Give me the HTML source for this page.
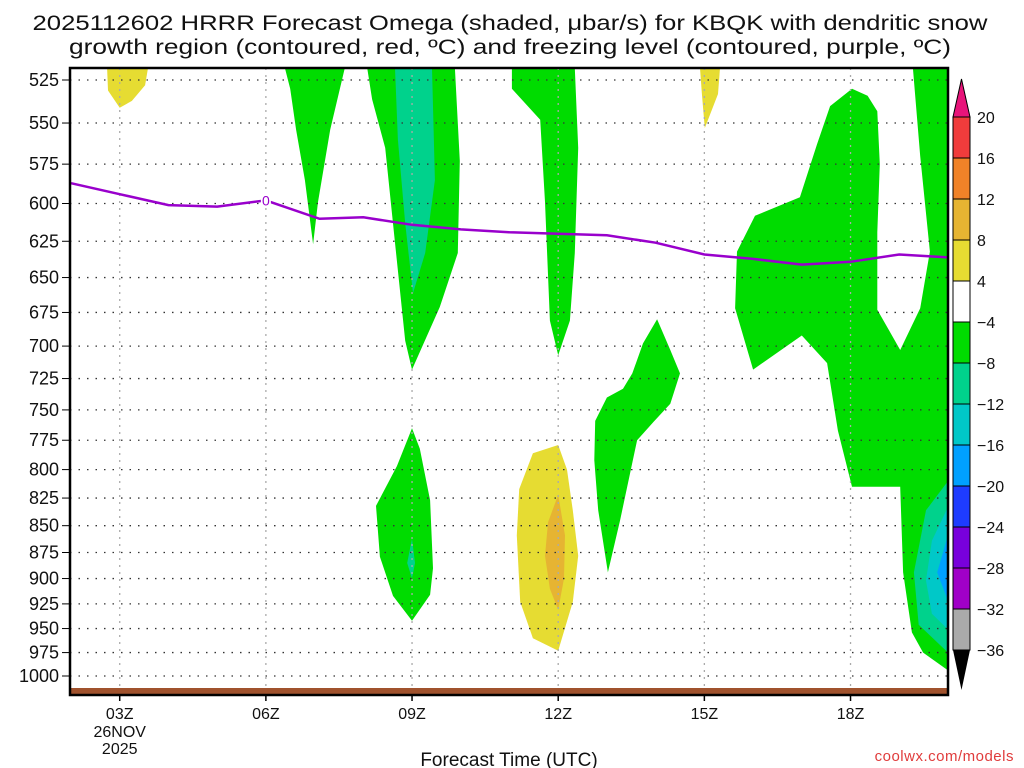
<!DOCTYPE html>
<html><head><meta charset="utf-8"><style>
body{margin:0;background:#fff}
svg{display:block}
text{font-family:"Liberation Sans","DejaVu Sans",sans-serif;fill:#111}
</style></head><body>
<svg id="chart" width="1024" height="768" viewBox="0 0 1024 768" xmlns="http://www.w3.org/2000/svg">
<text x="510" y="30" text-anchor="middle" font-size="21" textLength="955" lengthAdjust="spacingAndGlyphs">2025112602 HRRR Forecast Omega (shaded, μbar/s) for KBQK with dendritic snow</text>
<text x="510" y="54" text-anchor="middle" font-size="21" textLength="882" lengthAdjust="spacingAndGlyphs">growth region (contoured, red, ºC) and freezing level (contoured, purple, ºC)</text>
<g id="shades"></g>
<g id="grid"></g>
<g id="fz"></g>
<rect x="70" y="688" width="878" height="6" fill="#a0522d"/>
<rect x="70" y="68" width="878" height="627" fill="none" stroke="#000" stroke-width="2.5"/>
<g id="axes"></g>
<g id="cbar"></g>
<text x="509" y="766" text-anchor="middle" font-size="19">Forecast Time (UTC)</text>
<text x="1014" y="761" text-anchor="end" font-size="15" style="fill:#e03c3c" letter-spacing="0.5">coolwx.com/models</text>
</svg>
<script>
const NS="http://www.w3.org/2000/svg";
const pLevels=[525,550,575,600,625,650,675,700,725,750,775,800,825,850,875,900,925,950,975,1000];
const hourTicks=[3,6,9,12,15,18];
const hourLabels=["03Z","06Z","09Z","12Z","15Z","18Z"];
const fzHours=[2,3,4,5,6,7.1,8,9,10,11,12,13,14,15,16,17,18,19,20];
const fzPres=[587,594,601,602,598,610,609,614,617,619,620,621,626,634,637,641,639,634,636];
const cbLevels=[20,16,12,8,4,-4,-8,-12,-16,-20,-24,-28,-32,-36];
const cbColors=["#f03c3c","#f08228","#e6b432","#e6dc32","#ffffff","#00dc00","#00d28c","#00c8c8","#00a0ff","#1e3cff","#7800dc","#a000c8","#aaaaaa"];
const G="#00dc00",T="#00d28c",C="#00c8c8",B="#00a0ff",Y="#e6dc32",O="#e6b432";
const regions=[
 {n:"yellow-top-left",c:Y,pts:[[2.74,518],[3.58,518],[3.52,528],[3.25,537],[3.0,541],[2.76,531]]},
 {n:"green-07z",c:G,pts:[[6.39,518],[7.62,518],[7.32,554],[7.07,599],[6.97,627],[6.80,585],[6.62,554],[6.50,530]]},
 {n:"green-09z-upper",c:G,pts:[[8.08,518],[9.88,518],[9.98,573],[9.94,633],[9.57,671],[9.0,718],[8.86,696],[8.65,626],[8.45,565],[8.18,536]]},
 {n:"teal-09z-upper",c:T,pts:[[8.65,518],[9.41,518],[9.47,585],[9.27,633],[9.02,661],[8.86,613],[8.71,560]]},
 {n:"green-12z-upper",c:G,pts:[[11.05,518],[12.34,518],[12.41,565],[12.34,633],[12.24,681],[12.0,707],[11.83,681],[11.73,599],[11.63,548],[11.05,530]]},
 {n:"yellow-15z",c:Y,pts:[[14.91,518],[15.32,518],[15.28,533],[15.01,553],[14.95,533]]},
 {n:"green-09z-lower",c:G,pts:[[9.0,765],[8.69,797],[8.26,832],[8.34,879],[8.61,917],[9.0,942],[9.37,916],[9.43,890],[9.37,827],[9.16,782]]},
 {n:"teal-09z-lower",c:T,pts:[[9.0,862],[8.90,885],[9.0,900],[9.06,885]]},
 {n:"yellow-12z",c:Y,pts:[[12.0,779],[11.48,786],[11.2,817],[11.15,859],[11.22,923],[11.48,960],[12.0,973],[12.3,923],[12.41,878],[12.3,836],[12.18,800]]},
 {n:"orange-12z",c:O,pts:[[12.0,822],[11.79,847],[11.73,878],[11.83,910],[12.0,931],[12.12,900],[12.14,859]]},
 {n:"green-13z",c:G,pts:[[14.03,680],[13.74,698],[13.52,721],[13.33,733],[13.0,740],[12.76,759],[12.74,792],[12.82,836],[13.02,894],[13.27,845],[13.62,775],[13.95,760],[14.3,745],[14.5,721],[14.3,703]]},
 {n:"green-18z",c:G,pts:[[18.03,530],[17.58,540],[17.31,563],[16.96,596],[16.04,608],[15.67,632],[15.63,672],[16.0,718],[17.0,692],[17.52,713],[17.74,767],[18.03,815],[19.02,815],[19.08,894],[19.26,954],[19.49,975],[20,994],[20,518],[19.28,518],[19.43,570],[19.63,632],[19.43,672],[19.02,703],[18.55,673],[18.55,619],[18.6,575],[18.55,543],[18.35,534]]},
 {n:"teal-20z",c:T,pts:[[20,810],[19.55,836],[19.3,894],[19.4,946],[20,975]]},
 {n:"cyan-20z",c:C,pts:[[20,833],[19.67,864],[19.55,902],[19.67,935],[20,951]]},
 {n:"blue-20z",c:B,pts:[[20,859],[19.78,894],[20,922]]}
];
const X0=70,X1=948,Y0=68,Y1=695;
function xs(h){return 71+(h-2)*48.72;}
function ys(p){return 80+Math.log(p/525)/Math.log(1000/525)*596;}
function clampX(v){return Math.max(X0,Math.min(X1,v));}
function clampY(v){return Math.max(Y0,Math.min(Y1,v));}
function mk(tag,attrs,parent){const e=document.createElementNS(NS,tag);for(const k in attrs)e.setAttribute(k,attrs[k]);parent.appendChild(e);return e;}
const sh=document.getElementById('shades');
regions.forEach(r=>{
 const d=r.pts.map(q=>clampX(xs(q[0])).toFixed(1)+","+clampY(ys(q[1])).toFixed(1)).join(" ");
 const e=mk('polygon',{points:d,fill:r.c},sh);
 
 
});
const gr=document.getElementById('grid');
const ax=document.getElementById('axes');
pLevels.forEach(p=>{
 const y=ys(p);
 const l=mk('line',{x1:X0,x2:X1,y1:y,y2:y,stroke:"#333","stroke-width":1.3,"stroke-dasharray":"1.5 7"},gr);
 
 
 const tk=mk('line',{x1:62,x2:70,y1:y,y2:y,stroke:"#000","stroke-width":1},ax);
 
 
 const t=mk('text',{x:59,y:y+6,"text-anchor":"end","font-size":18},ax);
 t.textContent=p;
 
 
});
hourTicks.forEach((h,i)=>{
 const x=xs(h);
 const l=mk('line',{x1:x,x2:x,y1:Y0,y2:Y1,stroke:"#aaa","stroke-width":1.3,"stroke-dasharray":"2 5"},gr);
 
 
 const tk=mk('line',{x1:x,x2:x,y1:Y1,y2:Y1+6,stroke:"#000","stroke-width":1.5},ax);
 
 
 const t=mk('text',{x:x,y:719,"text-anchor":"middle","font-size":16},ax);
 t.textContent=hourLabels[i];
 
 
});
const d1=mk('text',{x:xs(3),y:737,"text-anchor":"middle","font-size":16},ax);d1.textContent="26NOV";


const d2=mk('text',{x:xs(3),y:754,"text-anchor":"middle","font-size":16},ax);d2.textContent="2025";


const fz=document.getElementById('fz');
const fl=mk('polyline',{points:fzHours.map((h,i)=>xs(h).toFixed(1)+","+ys(fzPres[i]).toFixed(1)).join(" "),fill:"none",stroke:"#9900cc","stroke-width":2.5},fz);


const fb=mk('rect',{x:xs(6)-5,y:ys(fzPres[4])-8,width:10,height:14,fill:"#fff"},fz);


const ft=mk('text',{x:xs(6),y:ys(fzPres[4])+5,"text-anchor":"middle","font-size":14,style:"fill:#9900cc"},fz);ft.textContent="0";


const cb=document.getElementById('cbar');
const cbX=953,cbW=17,cbTop=117,cbStep=41;
const tri1=mk('polygon',{points:`${cbX},${cbTop} ${cbX+cbW},${cbTop} ${cbX+cbW/2},${cbTop-38}`,fill:"#e8147a",stroke:"#000","stroke-width":1},cb);


cbColors.forEach((c,i)=>{
 const r=mk('rect',{x:cbX,y:cbTop+i*cbStep,width:cbW,height:cbStep,fill:c,stroke:"#000","stroke-width":1},cb);
 
 
});
const cbBot=cbTop+cbColors.length*cbStep;
const tri2=mk('polygon',{points:`${cbX},${cbBot} ${cbX+cbW},${cbBot} ${cbX+cbW/2},${cbBot+40}`,fill:"#000"},cb);


cbLevels.forEach((v,i)=>{
 const t=mk('text',{x:977,y:cbTop+i*cbStep+6,"font-size":16},cb);
 t.textContent=v<0?"−"+Math.abs(v):String(v);
 
 
});
</script>
</body></html>
